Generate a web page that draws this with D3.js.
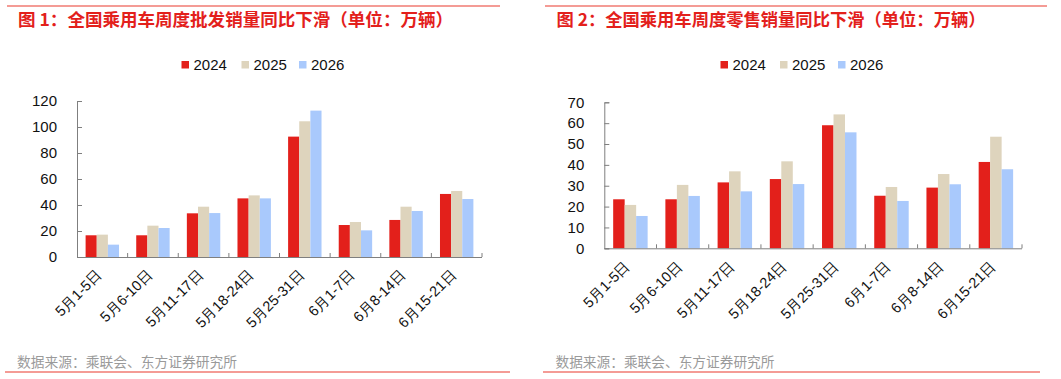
<!DOCTYPE html>
<html><head><meta charset="utf-8">
<script src="https://cdn.jsdelivr.net/npm/d3@7"></script>
<style>
body{margin:0;background:#fff;}
svg{display:block;font-family:"Liberation Sans","Noto Sans CJK SC",Arial,sans-serif;}
</style></head>
<body><svg id="c" width="1061" height="379"></svg>
<script>
const categories = ["5月1-5日","5月6-10日","5月11-17日","5月18-24日","5月25-31日","6月1-7日","6月8-14日","6月15-21日"];
const seriesNames = ["2024","2025","2026"];
const seriesColors = ["#e3201b","#ded4bd","#a9c9fc"];
const wholesale2024 = [16.7, 16.7, 33.6, 45.1, 92.6, 24.6, 28.5, 48.5];
const wholesale2025 = [17.2, 24.1, 38.7, 47.4, 104.4, 26.9, 38.7, 50.8];
const wholesale2026 = [9.5, 22.3, 33.8, 45.1, 112.6, 20.5, 35.4, 44.6];
const retail2024 = [23.5, 23.5, 31.6, 33.2, 59.0, 25.2, 29.1, 41.4];
const retail2025 = [20.8, 30.4, 36.9, 41.7, 64.2, 29.4, 35.6, 53.5];
const retail2026 = [15.5, 25.1, 27.3, 30.8, 55.6, 22.7, 30.7, 37.9];
const wholesaleTicks = [0,20,40,60,80,100,120];
const retailTicks = [0,10,20,30,40,50,60,70];
const title1 = "图 1：全国乘用车周度批发销量同比下滑（单位：万辆）";
const title2 = "图 2：全国乘用车周度零售销量同比下滑（单位：万辆）";
const sourceText = "数据来源：乘联会、东方证券研究所";

const svg = d3.select("#c");

function drawPanel(cfg){
  const g = svg.append("g");
  g.append("line").attr("x1",cfg.lineX1).attr("x2",cfg.lineX2).attr("y1",6).attr("y2",6)
    .attr("stroke","#f07a72").attr("stroke-width",1.5);
  g.append("line").attr("x1",cfg.botX1).attr("x2",cfg.botX2).attr("y1",372).attr("y2",372)
    .attr("stroke","#f07a72").attr("stroke-width",1.5);
  g.append("text").attr("x",cfg.titleX).attr("y",26).attr("fill","#e3201b")
    .attr("font-weight","bold").attr("font-size",17.5)
    .attr("font-family","'Noto Sans CJK SC',sans-serif")
    .attr("textLength",cfg.titleW).attr("lengthAdjust","spacingAndGlyphs")
    .text(cfg.title);
  g.append("text").attr("x",cfg.titleX-1).attr("y",367).attr("fill","#9a9a9a")
    .attr("font-size",13.5).attr("font-family","'Noto Sans CJK SC',sans-serif")
    .attr("textLength",cfg.srcW).attr("lengthAdjust","spacingAndGlyphs")
    .text(sourceText);

  const x = d3.scaleBand().domain(categories).range([cfg.x0,cfg.x1]).padding(0);
  const bw = x.bandwidth();
  const xs = d3.scaleBand().domain(seriesNames).range([bw*0.17, bw*0.83]).padding(0);
  const y = d3.scaleLinear().domain([cfg.ticks[0],cfg.ticks[cfg.ticks.length-1]]).range([cfg.y0,cfg.y1]);

  cfg.series.forEach((vals,si)=>{
    g.append("g").selectAll("rect").data(vals).join("rect")
      .attr("x",(d,i)=>x(categories[i])+xs(seriesNames[si]))
      .attr("width",xs.bandwidth())
      .attr("y",d=>y(d)).attr("height",d=>y(0)-y(d))
      .attr("fill",seriesColors[si]);
  });

  const ya = g.append("g").attr("transform",`translate(${cfg.x0},0)`)
    .call(d3.axisLeft(y).tickValues(cfg.ticks).tickSize(-5).tickPadding(20).tickFormat(d3.format("d")));
  ya.selectAll("path,line").attr("stroke","#7f7f7f");
  ya.selectAll("text").attr("font-size",15).attr("fill","#111").attr("font-family","'Liberation Sans',Arial,sans-serif");

  const xa = g.append("g").attr("transform",`translate(0,${cfg.y0})`)
    .call(d3.axisBottom(x).tickSize(0).tickPadding(0));
  xa.select("path").attr("stroke","#7f7f7f").attr("d",`M${cfg.x0},0.5H${cfg.x1}`);
  const bounds = categories.map(c=>x(c)).concat([cfg.x1]);
  g.append("g").selectAll("line").data(bounds.slice(1)).join("line")
    .attr("x1",d=>d).attr("x2",d=>d).attr("y1",cfg.y0).attr("y2",cfg.y0-4)
    .attr("stroke","#7f7f7f");
  xa.selectAll(".tick text")
    .attr("font-size",14.5).attr("fill","#111").attr("text-anchor","end")
    .attr("transform","translate(-3,15) rotate(-45)").attr("dy","0.35em").attr("dx","0").attr("y",0);

  seriesNames.forEach((n,i)=>{
    g.append("rect").attr("x",cfg.legX[i]).attr("y",61).attr("width",7.5).attr("height",7.5).attr("fill",seriesColors[i]);
    g.append("text").attr("x",cfg.legX[i]+12).attr("y",69.5).attr("font-size",15).attr("fill","#111")
      .attr("font-family","'Liberation Sans',Arial,sans-serif").text(n);
  });
}

drawPanel({title:title1,titleX:18,titleW:435,srcW:220,lineX1:7,lineX2:500,botX1:5,botX2:510,
  x0:77,x1:482,y0:257,y1:101,ticks:wholesaleTicks,
  series:[wholesale2024,wholesale2025,wholesale2026],legX:[181.5,241.5,299]});
drawPanel({title:title2,titleX:556.5,titleW:429,srcW:219,lineX1:545,lineX2:1047,botX1:543,botX2:1040,
  x0:604.3,x1:1022,y0:248.3,y1:102.3,ticks:retailTicks,
  series:[retail2024,retail2025,retail2026],legX:[720.5,780,838]});
</script></body></html>
